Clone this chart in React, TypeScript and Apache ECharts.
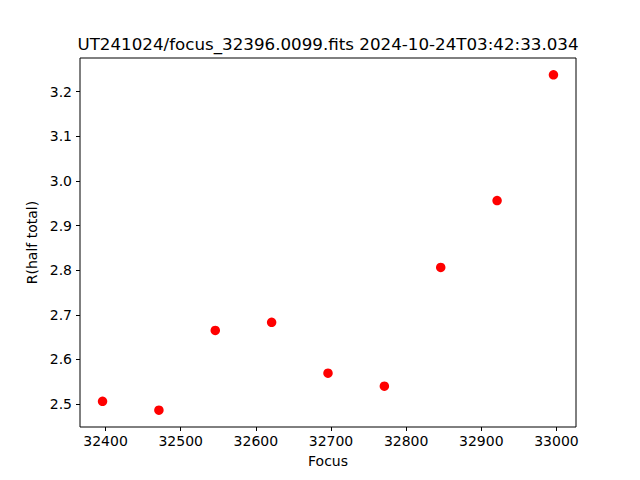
import React, { useEffect, useRef } from "react";
import * as echarts from "echarts";

const focusValues = [32396, 32471, 32546, 32621, 32696, 32771, 32846, 32921, 32996];
const radiusValues = [2.506, 2.486, 2.665, 2.683, 2.569, 2.54, 2.806, 2.956, 3.238];
const xTicks = [32400, 32500, 32600, 32700, 32800, 32900, 33000];
const yTicks = [2.5, 2.6, 2.7, 2.8, 2.9, 3.0, 3.1, 3.2];
const titleText = "UT241024/focus_32396.0099.fits 2024-10-24T03:42:33.034";

const FONT = "DejaVu Sans";

export default function App() {
  const ref = useRef<HTMLDivElement>(null);
  useEffect(() => {
    if (!ref.current) return;
    const chart = echarts.init(ref.current, undefined, { renderer: "svg" });
    const xr = Math.max(...focusValues) - Math.min(...focusValues);
    const yr = Math.max(...radiusValues) - Math.min(...radiusValues);
    chart.setOption({
      animation: false,
      backgroundColor: "#fff",
      grid: {
        left: 80,
        right: 64,
        top: 58,
        bottom: 53,
        show: true,
        borderColor: "#000",
        borderWidth: 1,
      },
      graphic: [
        {
          type: "text",
          x: 328,
          y: 44,
          style: {
            text: titleText,
            fill: "#000",
            font: `16.7px '${FONT}'`,
            textAlign: "center",
            textVerticalAlign: "middle",
          },
        },
      ],
      xAxis: {
        type: "value",
        min: Math.min(...focusValues) - 0.05 * xr,
        max: Math.max(...focusValues) + 0.05 * xr,
        name: "Focus",
        nameLocation: "middle",
        nameGap: 27,
        nameTextStyle: { color: "#000", fontFamily: FONT, fontSize: 14 },
        splitLine: { show: false },
        axisLine: { show: false },
        axisTick: {
          show: true,
          length: 4,
          inside: false,
          lineStyle: { color: "#000", width: 1 },
          customValues: xTicks,
        },
        axisLabel: {
          color: "#000",
          fontFamily: FONT,
          fontSize: 14,
          margin: 7,
          customValues: xTicks,
          formatter: (v: number) => String(v),
        },
      },
      yAxis: {
        type: "value",
        min: Math.min(...radiusValues) - 0.05 * yr,
        max: Math.max(...radiusValues) + 0.05 * yr,
        name: "R(half total)",
        nameLocation: "middle",
        nameGap: 36,
        nameTextStyle: { color: "#000", fontFamily: FONT, fontSize: 14 },
        splitLine: { show: false },
        axisLine: { show: false },
        axisTick: {
          show: true,
          length: 4,
          inside: false,
          lineStyle: { color: "#000", width: 1 },
          customValues: yTicks,
        },
        axisLabel: {
          color: "#000",
          fontFamily: FONT,
          fontSize: 14,
          margin: 8,
          customValues: yTicks,
          formatter: (v: number) => v.toFixed(1),
        },
      },
      series: [
        {
          type: "scatter",
          data: focusValues.map((f, i) => [f, radiusValues[i]]),
          symbol: "circle",
          symbolSize: 9.5,
          itemStyle: { color: "#ff0000", opacity: 1 },
        },
      ],
    });
    return () => chart.dispose();
  }, []);
  return <div ref={ref} style={{ width: 640, height: 480, position: "absolute", left: 0, top: 0 }} />;
}
